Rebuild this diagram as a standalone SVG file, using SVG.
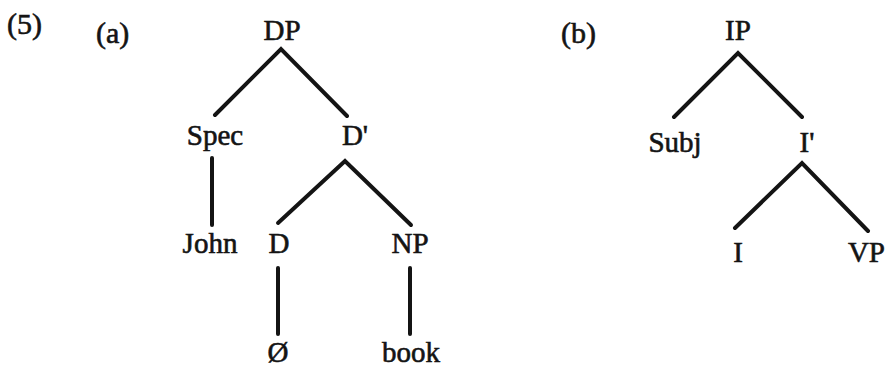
<svg xmlns="http://www.w3.org/2000/svg" width="887" height="370" viewBox="0 0 887 370">
<style>
text{font-family:"Liberation Serif","Times New Roman",serif;font-size:29px;fill:#141414;stroke:#141414;stroke-width:0.6;text-anchor:middle}
.lbl{text-anchor:start}
.e{fill:none;stroke:#141414;stroke-width:4;stroke-linecap:round;stroke-linejoin:miter}
</style>
<rect width="887" height="370" fill="#fff"/>
<g id="labels">
<text class="lbl" x="7" y="34" style="font-size:30px">(5)</text>
<text class="lbl" x="96" y="43" style="font-size:30px">(a)</text>
<text class="lbl" x="561" y="43" style="font-size:30px">(b)</text>
</g>
<g id="connectors">
<polyline class="e" points="215,115 281,49 347,116"/>
<line class="e" x1="212" y1="158" x2="212" y2="225"/>
<polyline class="e" points="278,223 345,161 411,225"/>
<line class="e" x1="278" y1="268" x2="278" y2="334"/>
<line class="e" x1="410" y1="268" x2="410" y2="334"/>
<polyline class="e" points="674,117 738,53 802,117"/>
<polyline class="e" points="735,228 802,163 868,231"/>
</g>
<g id="n-DP"><text x="282" y="40">DP</text></g>
<g id="n-Spec"><text x="215" y="145">Spec</text></g>
<g id="n-Dbar"><text x="355" y="145">D'</text></g>
<g id="n-John"><text x="210" y="253">John</text></g>
<g id="n-D"><text x="279" y="253">D</text></g>
<g id="n-NP"><text x="410" y="253">NP</text></g>
<g id="n-null"><text x="278" y="362">Ø</text></g>
<g id="n-book"><text x="411" y="362">book</text></g>
<g id="n-IP"><text x="738" y="40">IP</text></g>
<g id="n-Subj"><text x="675" y="152">Subj</text></g>
<g id="n-Ibar"><text x="807" y="152">I'</text></g>
<g id="n-I"><text x="738" y="262">I</text></g>
<g id="n-VP"><text x="885" y="262" style="text-anchor:end">VP</text></g>
</svg>
